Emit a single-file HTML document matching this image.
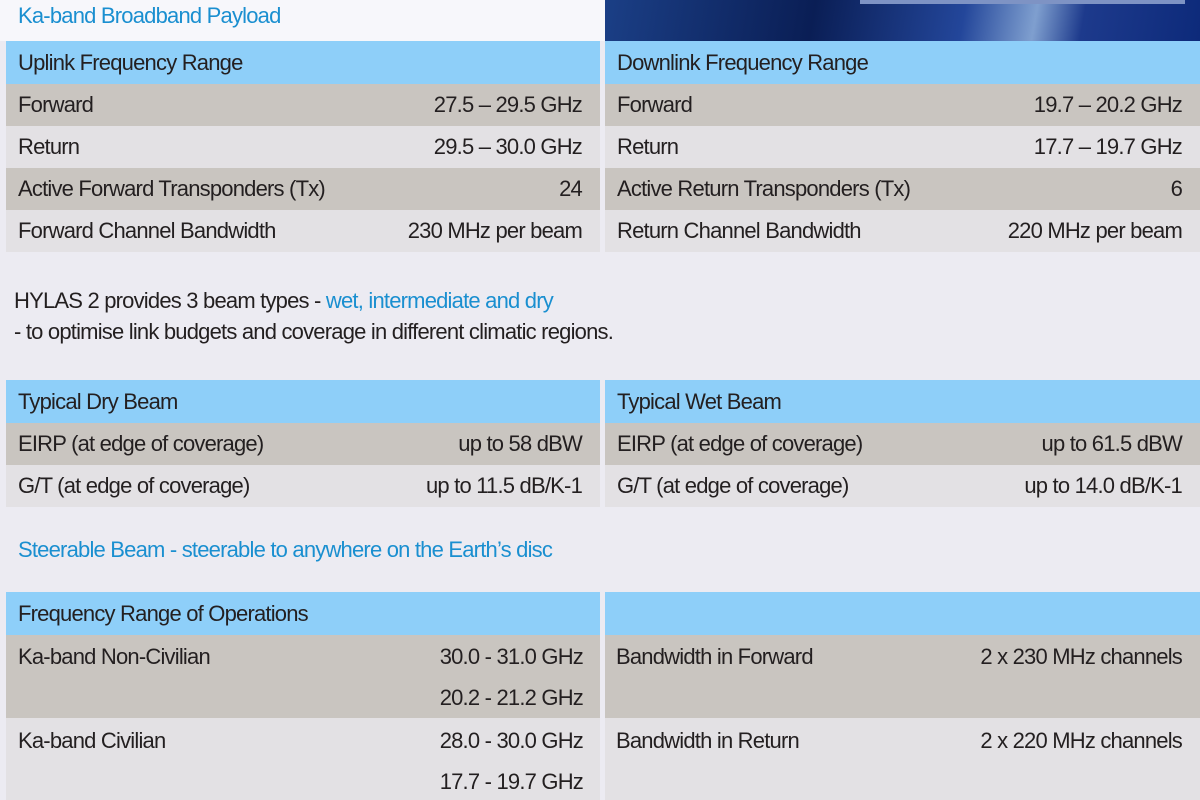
<!DOCTYPE html>
<html><head><meta charset="utf-8"><style>
*{margin:0;padding:0;box-sizing:border-box}
body{width:1200px;height:800px;background:#ecebf2;position:relative;overflow:hidden;font-family:"Liberation Sans",sans-serif;font-size:22px;letter-spacing:-0.8px;color:#231f20}
.a{position:absolute}
.top{left:0;top:0;width:1200px;height:41px;background:#f7f7fb}
.img{left:605px;top:0;width:595px;height:41px;background:linear-gradient(100deg,#1b3f86 0%,#0a1e55 35%,#23469a 60%,#7f9fcf 72%,#1d3a8c 80%,#0d2a7a 100%)}
.bar{left:860px;top:0;width:325px;height:4px;background:#7e93c4}
.r{position:absolute;display:flex;justify-content:space-between;align-items:center;padding:0 18px 0 12px}
.h{background:#8ecff9}
.d{background:#c9c5c0}
.l{background:#e3e1e4}
.blue{color:#1a8fd0}
.t{position:absolute;left:18px}
</style></head><body>
<div class="a top"></div>
<div class="a img"></div><div class="a bar"></div>
<div class="t blue" style="top:3px">Ka-band Broadband Payload</div>

<div class="r h" style="left:6px;top:41px;width:594px;height:43px"><span>Uplink Frequency Range</span></div>
<div class="r d" style="left:6px;top:84px;width:594px;height:42px"><span>Forward</span><span>27.5 – 29.5 GHz</span></div>
<div class="r l" style="left:6px;top:126px;width:594px;height:42px"><span>Return</span><span>29.5 – 30.0 GHz</span></div>
<div class="r d" style="left:6px;top:168px;width:594px;height:42px"><span>Active Forward Transponders (Tx)</span><span>24</span></div>
<div class="r l" style="left:6px;top:210px;width:594px;height:42px"><span>Forward Channel Bandwidth</span><span>230 MHz per beam</span></div>

<div class="r h" style="left:605px;top:41px;width:595px;height:43px"><span>Downlink Frequency Range</span></div>
<div class="r d" style="left:605px;top:84px;width:595px;height:42px"><span>Forward</span><span>19.7 – 20.2 GHz</span></div>
<div class="r l" style="left:605px;top:126px;width:595px;height:42px"><span>Return</span><span>17.7 – 19.7 GHz</span></div>
<div class="r d" style="left:605px;top:168px;width:595px;height:42px"><span>Active Return Transponders (Tx)</span><span>6</span></div>
<div class="r l" style="left:605px;top:210px;width:595px;height:42px"><span>Return Channel Bandwidth</span><span>220 MHz per beam</span></div>

<div class="t" style="top:288px;left:14px">HYLAS 2 provides 3 beam types - <span class="blue">wet, intermediate and dry</span></div>
<div class="t" style="top:319px;left:14px">- to optimise link budgets and coverage in different climatic regions.</div>

<div class="r h" style="left:6px;top:380px;width:594px;height:43px"><span>Typical Dry Beam</span></div>
<div class="r d" style="left:6px;top:423px;width:594px;height:42px"><span>EIRP (at edge of coverage)</span><span>up to 58 dBW</span></div>
<div class="r l" style="left:6px;top:465px;width:594px;height:42px"><span>G/T (at edge of coverage)</span><span>up to 11.5 dB/K-1</span></div>
<div class="r h" style="left:605px;top:380px;width:595px;height:43px"><span>Typical Wet Beam</span></div>
<div class="r d" style="left:605px;top:423px;width:595px;height:42px"><span>EIRP (at edge of coverage)</span><span>up to 61.5 dBW</span></div>
<div class="r l" style="left:605px;top:465px;width:595px;height:42px"><span>G/T (at edge of coverage)</span><span>up to 14.0 dB/K-1</span></div>

<div class="t blue" style="top:537px">Steerable Beam - steerable to anywhere on the Earth’s disc</div>

<div class="r h" style="left:6px;top:592px;width:594px;height:43px"><span>Frequency Range of Operations</span></div>
<div class="r h" style="left:605px;top:592px;width:595px;height:43px"></div>
<div class="a d" style="left:6px;top:635px;width:594px;height:83px"></div>
<div class="a l" style="left:6px;top:718px;width:594px;height:82px"></div>
<div class="a d" style="left:605px;top:635px;width:595px;height:83px"></div>
<div class="a l" style="left:605px;top:718px;width:595px;height:82px"></div>
<div class="t" style="top:644px">Ka-band Non-Civilian</div>
<div class="a" style="top:644px;right:617px">30.0 - 31.0 GHz</div>
<div class="a" style="top:685px;right:617px">20.2 - 21.2 GHz</div>
<div class="t" style="top:728px">Ka-band Civilian</div>
<div class="a" style="top:728px;right:617px">28.0 - 30.0 GHz</div>
<div class="a" style="top:769px;right:617px">17.7 - 19.7 GHz</div>
<div class="a" style="top:644px;left:616px">Bandwidth in Forward</div>
<div class="a" style="top:644px;right:18px">2 x 230 MHz channels</div>
<div class="a" style="top:728px;left:616px">Bandwidth in Return</div>
<div class="a" style="top:728px;right:18px">2 x 220 MHz channels</div>
</body></html>
